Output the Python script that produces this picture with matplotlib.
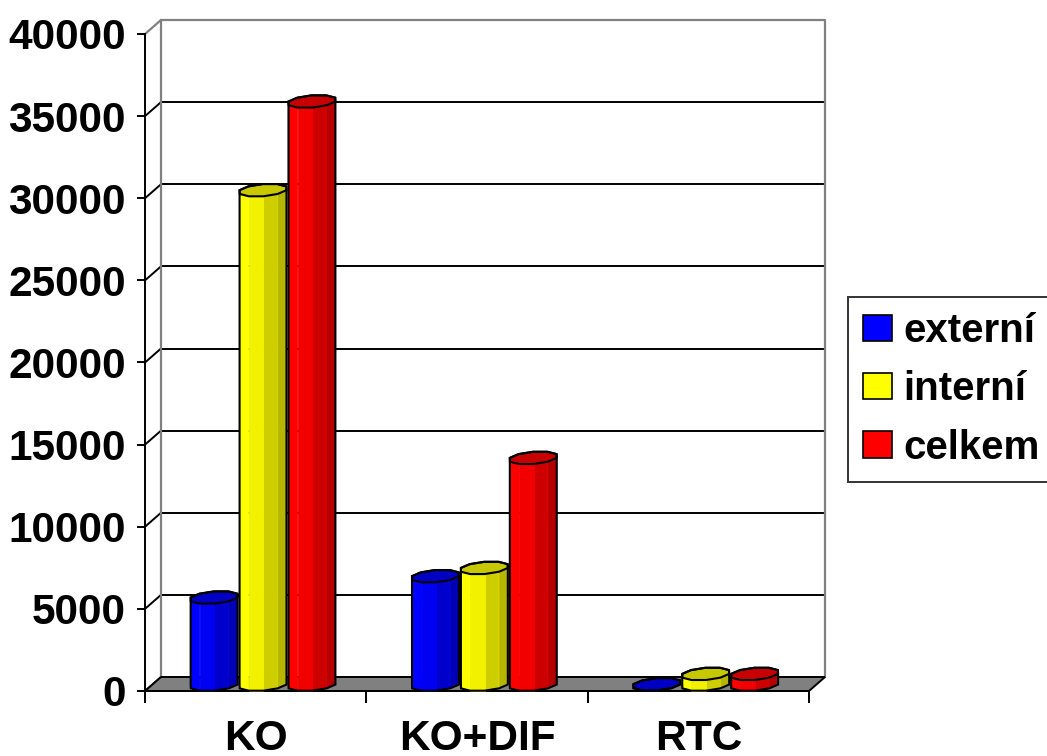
import numpy as np
import matplotlib
matplotlib.use('Agg')
import matplotlib.pyplot as plt
from matplotlib.patches import Polygon, Patch
from matplotlib.colors import to_rgb

categories = ['KO', 'KO+DIF', 'RTC']
series_names = ['externí', 'interní', 'celkem']
externi = [5300, 6600, 20]
interni = [30100, 7100, 650]
celkem = [35500, 13800, 650]
y_ticks = [0, 5000, 10000, 15000, 20000, 25000, 30000, 35000, 40000]

series = [externi, interni, celkem]
face_colors = ['#0000FF', '#FFFF00', '#FF0000']
cap_colors = ['#0000C4', '#C8C800', '#C80000']

plt.rcParams['font.family'] = ['Liberation Sans', 'DejaVu Sans']
plt.rcParams['font.weight'] = 'bold'

# depth of the pseudo-3d box, in data units (categories / values)
DX = 0.0723
DY = 852
BAR_A = 0.106      # half width of a bar
BAR_STEP = 0.221   # distance between bars in a group
DEPTH_C = 0.46     # bar centre along the depth
DEPTH_B = 0.46     # bar half depth
N = 10


def shade(c, f):
    r, g, b = to_rgb(c)
    return (r * f, g * f, b * f)


def hull(pts):
    pts = sorted(set(pts))
    def cross(o, a, b):
        return (a[0] - o[0]) * (b[1] - o[1]) - (a[1] - o[1]) * (b[0] - o[0])
    lower, upper = [], []
    for p in pts:
        while len(lower) >= 2 and cross(lower[-2], lower[-1], p) <= 0:
            lower.pop()
        lower.append(p)
    for p in reversed(pts):
        while len(upper) >= 2 and cross(upper[-2], upper[-1], p) <= 0:
            upper.pop()
        upper.append(p)
    return lower[:-1] + upper[:-1]


def draw_bar(ax, xc, value, color, cap_color, z):
    t = np.arange(N) * 2 * np.pi / N + np.pi / N
    u = xc + BAR_A * np.sin(t)
    w = DEPTH_C - DEPTH_B * np.cos(t)
    bx = u + w * DX
    by = w * DY
    ty = by + value
    for k in range(N):
        k2 = (k + 1) % N
        if bx[k2] - bx[k] <= 1e-9:
            continue
        tm = t[k] + np.pi / N
        s = np.sin(tm)
        f = 1.0 if s < -0.2 else 1.0 - 0.3 * (s + 0.2) / 1.2
        poly = [(bx[k], by[k]), (bx[k2], by[k2]), (bx[k2], ty[k2]), (bx[k], ty[k])]
        ax.add_patch(Polygon(poly, closed=True, facecolor=shade(color, f),
                             edgecolor=shade(color, min(1.0, f + 0.12)) if s > 0.3 else shade(color, f),
                             linewidth=0.6, zorder=z, clip_on=False))
    cap = list(zip(bx, ty))
    ax.add_patch(Polygon(cap, closed=True, facecolor=cap_color, edgecolor='black',
                         linewidth=1.5, zorder=z + 0.1, clip_on=False))
    outline = hull(list(zip(bx, by)) + cap)
    ax.add_patch(Polygon(outline, closed=True, facecolor='none', edgecolor='black',
                         linewidth=1.5, zorder=z + 0.2, clip_on=False))


fig = plt.figure(figsize=(10.47, 7.56), dpi=100)
ax = fig.add_axes([145 / 1047, 65 / 756, 664 / 1047, 657 / 756])
ax.set_xlim(0, 3)
ax.set_ylim(0, 40000)

top = y_ticks[-1]
# back wall, side wall lines and grid
for v in y_ticks[:-1]:
    ax.plot([DX, 3 + DX], [v + DY, v + DY], color='black', lw=1.4, zorder=1, clip_on=False)
    ax.plot([0, DX], [v, v + DY], color='black', lw=1.4, zorder=1, clip_on=False)
ax.plot([0, DX, 3 + DX, 3 + DX], [top, top + DY, top + DY, DY], color='#808080', lw=1.6,
        zorder=1, clip_on=False)
ax.plot([DX, DX], [DY, top + DY], color='#808080', lw=1.6, zorder=1, clip_on=False)

# floor
ax.add_patch(Polygon([(0, 0), (3, 0), (3 + DX, DY), (DX, DY)], closed=True,
                     facecolor='#808080', edgecolor='black', linewidth=1.4, zorder=1.5,
                     clip_on=False))

z = 3
for ci in range(len(categories)):
    for si, vals in enumerate(series):
        xc = ci + 0.5 + (si - 1) * BAR_STEP
        draw_bar(ax, xc, vals[ci], face_colors[si], cap_colors[si], z)
        z += 1

for side in ['top', 'right']:
    ax.spines[side].set_visible(False)
for side in ['left', 'bottom']:
    ax.spines[side].set_linewidth(1.4)
    ax.spines[side].set_zorder(2)

ax.set_yticks(y_ticks)
ax.set_yticklabels([str(v) for v in y_ticks])
ax.tick_params(axis='y', direction='out', length=5.8, width=1.4, pad=8, labelsize=30.5)
ax.set_xticks([0, 1, 2, 3])
ax.set_xticklabels([])
ax.set_xticks([0.5, 1.5, 2.5], minor=True)
ax.set_xticklabels(categories, minor=True)
ax.tick_params(axis='x', which='major', direction='out', length=8.6, width=1.4)
ax.tick_params(axis='x', which='minor', length=0, pad=20, labelsize=30.5)

handles = [Patch(facecolor=c, edgecolor='black', linewidth=1.2) for c in face_colors]
leg = fig.legend(handles, series_names, loc='upper left',
                 bbox_to_anchor=(848 / 1047, 1 - 297 / 756), bbox_transform=fig.transFigure,
                 prop={'size': 29, 'weight': 'bold'}, frameon=True, fancybox=False,
                 edgecolor='black', handlelength=0.71, handleheight=0.63,
                 handletextpad=0.28, labelspacing=0.5, borderpad=0.38, borderaxespad=0)
leg.get_frame().set_linewidth(1.4)

fig.savefig('out.png', dpi=100, facecolor='white')
